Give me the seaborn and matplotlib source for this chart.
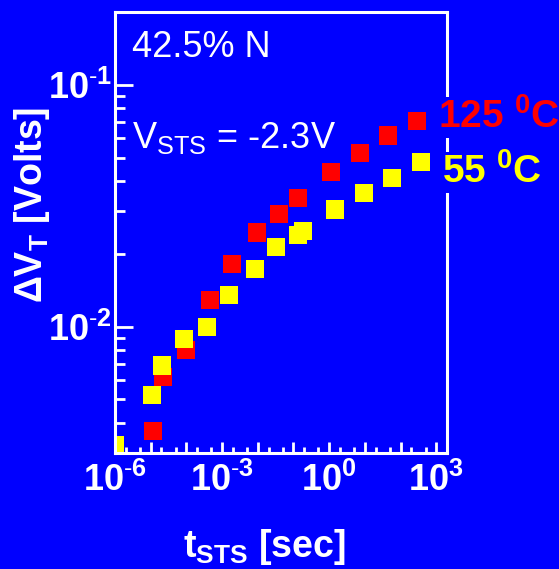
import numpy as np
import pandas as pd
import matplotlib
matplotlib.use("Agg")
import matplotlib.pyplot as plt
import matplotlib.ticker as mticker
import seaborn as sns

# Threshold-voltage shift vs. stress time, two temperatures
t_125 = [1.18e-5, 2.17e-5, 9.9e-5, 4.6e-4, 1.93e-3, 9.7e-3, 0.039, 0.136,
         1.12, 7.4, 45, 288]
dvt_125 = [0.0037, 0.0062, 0.0080, 0.0129, 0.0181, 0.0245, 0.0292, 0.0340,
           0.0437, 0.0521, 0.0617, 0.0711]

t_55 = [1e-6, 1.11e-5, 2.07e-5, 8.4e-5, 3.85e-4, 1.59e-3, 8.5e-3, 0.033,
        0.134, 0.188, 1.45, 9.2, 58.6, 372]
dvt_55 = [0.00325, 0.0052, 0.0069, 0.0089, 0.0100, 0.0135, 0.0173, 0.0214,
          0.0239, 0.0248, 0.0305, 0.0357, 0.0410, 0.0479]

series_names = ["125", "55"]
series_colors = {"125": "#FF0000", "55": "#FFFF00"}
x_tick_values = [1e-6, 1e-3, 1e0, 1e3]
y_tick_values = [1e-2, 1e-1]

df = pd.concat([
    pd.DataFrame({"t": t_125, "dvt": dvt_125, "temp": "125"}),
    pd.DataFrame({"t": t_55, "dvt": dvt_55, "temp": "55"}),
], ignore_index=True)

sns.set_theme(style="ticks")
plt.rcParams["font.family"] = ["Liberation Sans", "DejaVu Sans"]
plt.rcParams["mathtext.fontset"] = "custom"
plt.rcParams["mathtext.rm"] = "Liberation Sans"
plt.rcParams["mathtext.it"] = "Liberation Sans:italic"
plt.rcParams["mathtext.bf"] = "Liberation Sans:bold"

BLUE = "#0000FF"
WHITE = "white"


def pow10_label(exp):
    """Bold 10^n label with a short hyphen for negative exponents."""
    if exp < 0:
        return r"$\mathbf{10^{\text{-}%d}}$" % (-exp)
    return r"$\mathbf{10^{%d}}$" % exp


fig = plt.figure(figsize=(5.59, 5.69), dpi=100, facecolor=BLUE)
ax = fig.add_axes([115 / 559, 1 - 453 / 569, 332 / 559, 441 / 569])
ax.set_facecolor(BLUE)

sns.scatterplot(data=df, x="t", y="dvt", hue="temp", palette=series_colors,
                hue_order=series_names, marker="s", s=170, linewidth=0,
                legend=False, ax=ax)

ax.set_xscale("log")
ax.set_yscale("log")
ax.set_xlim(1e-6, 2e3)
ax.set_ylim(3e-3, 0.2)

for side in ["left", "right", "top", "bottom"]:
    ax.spines[side].set_color(WHITE)
    ax.spines[side].set_linewidth(2.2)

# x axis ticks
ax.xaxis.set_major_locator(mticker.LogLocator(base=10, numticks=20))
ax.xaxis.set_minor_locator(mticker.LogLocator(base=10, subs=(2.0, 5.0), numticks=20))


def xfmt(v, pos):
    e = int(round(np.log10(v)))
    if any(abs(v - tv) / tv < 1e-6 for tv in x_tick_values):
        return pow10_label(e)
    return ""


ax.xaxis.set_major_formatter(mticker.FuncFormatter(xfmt))
ax.xaxis.set_minor_formatter(mticker.NullFormatter())

# y axis ticks
ax.yaxis.set_major_locator(mticker.FixedLocator(y_tick_values))
ax.yaxis.set_minor_locator(mticker.LogLocator(base=10, subs=np.arange(2, 10), numticks=20))
ax.yaxis.set_major_formatter(mticker.FuncFormatter(
    lambda v, pos: pow10_label(int(round(np.log10(v))))))
ax.yaxis.set_minor_formatter(mticker.NullFormatter())

ax.tick_params(axis="x", which="major", direction="in", length=8, width=2,
               color=WHITE, labelcolor=WHITE, labelsize=26, pad=7,
               top=False, bottom=True)
ax.tick_params(axis="x", which="minor", direction="in", length=4, width=2,
               color=WHITE, top=False, bottom=True)
ax.tick_params(axis="y", which="major", direction="in", length=13, width=2,
               color=WHITE, labelcolor=WHITE, labelsize=26, pad=2,
               right=False, left=True)
ax.tick_params(axis="y", which="minor", direction="in", length=7, width=2,
               color=WHITE, right=False, left=True)

ax.set_xlabel(r"$\mathbf{t_{STS}\ [sec]}$", color=WHITE, fontsize=27)
ax.set_ylabel(r"$\mathbf{\Delta V_{T}\ [Volts]}$", color=WHITE, fontsize=27)
ax.xaxis.set_label_coords(0.45, -0.168)
ax.yaxis.set_label_coords(-0.19, 0.562)

ax.text(0.051, 0.898, "42.5% N", transform=ax.transAxes, color=WHITE,
        fontsize=26, ha="left", va="baseline")
ax.text(0.051, 0.692, r"$\mathrm{V_{STS}}$ = -2.3V", transform=ax.transAxes,
        color=WHITE, fontsize=26, ha="left", va="baseline")

box = dict(facecolor=BLUE, edgecolor="none", pad=1)
ax.text(0.973, 0.737, r"$\mathbf{125\ {}^{0}C}$", transform=ax.transAxes,
        color=series_colors["125"], fontsize=28, ha="left", va="baseline",
        clip_on=False, bbox=box)
ax.text(0.985, 0.612, r"$\mathbf{55\ {}^{0}C}$", transform=ax.transAxes,
        color=series_colors["55"], fontsize=28, ha="left", va="baseline",
        clip_on=False, bbox=box)

fig.savefig("out.png", dpi=100, facecolor=BLUE)
